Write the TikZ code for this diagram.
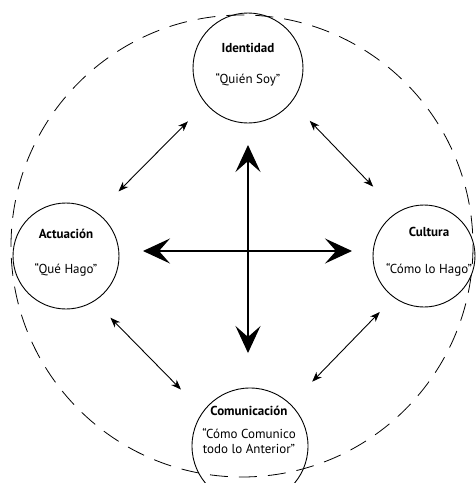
\documentclass[tikz,border=0pt]{standalone}
\usepackage{fontspec}
\setmainfont{PT Sans}
\usetikzlibrary{arrows.meta}
\begin{document}
\begin{tikzpicture}[x=1pt,y=-1pt,
  ring/.style={circle,draw,line width=0.9pt,inner sep=0pt},
  title/.style={font=\fontsize{13}{15}\selectfont\bfseries,inner sep=0pt},
  motto/.style={font=\fontsize{13}{14.5}\selectfont,inner sep=0pt,align=center},
  link/.style={line width=0.9pt,{Stealth[length=10pt,width=7.5pt,inset=3pt]}-{Stealth[length=10pt,width=7.5pt,inset=3pt]}},
  axis/.style={line width=1.1pt,{Stealth[length=27pt,width=25pt,inset=11pt]}-{Stealth[length=27pt,width=25pt,inset=11pt]}}]
\useasboundingbox (0,0) rectangle (475,483);

% outer dashed boundary
\draw[line width=0.8pt,dash pattern=on 18pt off 11pt] (242,246) circle[radius=231];

% the four circles
\node[ring,minimum size=110pt] (iden) at (248,68) {};
\node[ring,minimum size=106pt] (act) at (66,256) {};
\node[ring,minimum size=102pt] (cult) at (424,256) {};
\node[ring,minimum size=116pt] (com) at (250,446) {};

% labels
\node[title] (idenT) at (248,48) {Identidad};
\node[motto] (idenM) at (248,80) {“Quién Soy”};
\node[title] (actT) at (66,234) {Actuación};
\node[motto] (actM) at (66,270) {“Qué Hago”};
\node[title] (cultT) at (429,232) {Cultura};
\node[motto] (cultM) at (429,270) {“Cómo lo Hago”};
\node[title] (comT) at (249,411) {Comunicación};
\node[motto] (comM) at (249,441) {“Cómo Comunico\\todo lo Anterior”};

% links between neighbouring circles
\draw[link,shorten <=25pt,shorten >=30pt] (iden.220) -- (act.54);
\draw[link,shorten <=26pt,shorten >=35pt] (iden.322) -- (cult.121);
\draw[link,shorten <=23pt,shorten >=31pt] (act.302) -- (com.144);
\draw[link,shorten <=20pt,shorten >=31pt] (cult.234) -- (com.46);

% central cross
\coordinate (up) at (248,145);
\coordinate (down) at (248,353);
\coordinate (left) at (143,251);
\coordinate (right) at (352,251);
\draw[axis] (up) -- (down);
\draw[axis] (left) -- (right);
\end{tikzpicture}
\end{document}
